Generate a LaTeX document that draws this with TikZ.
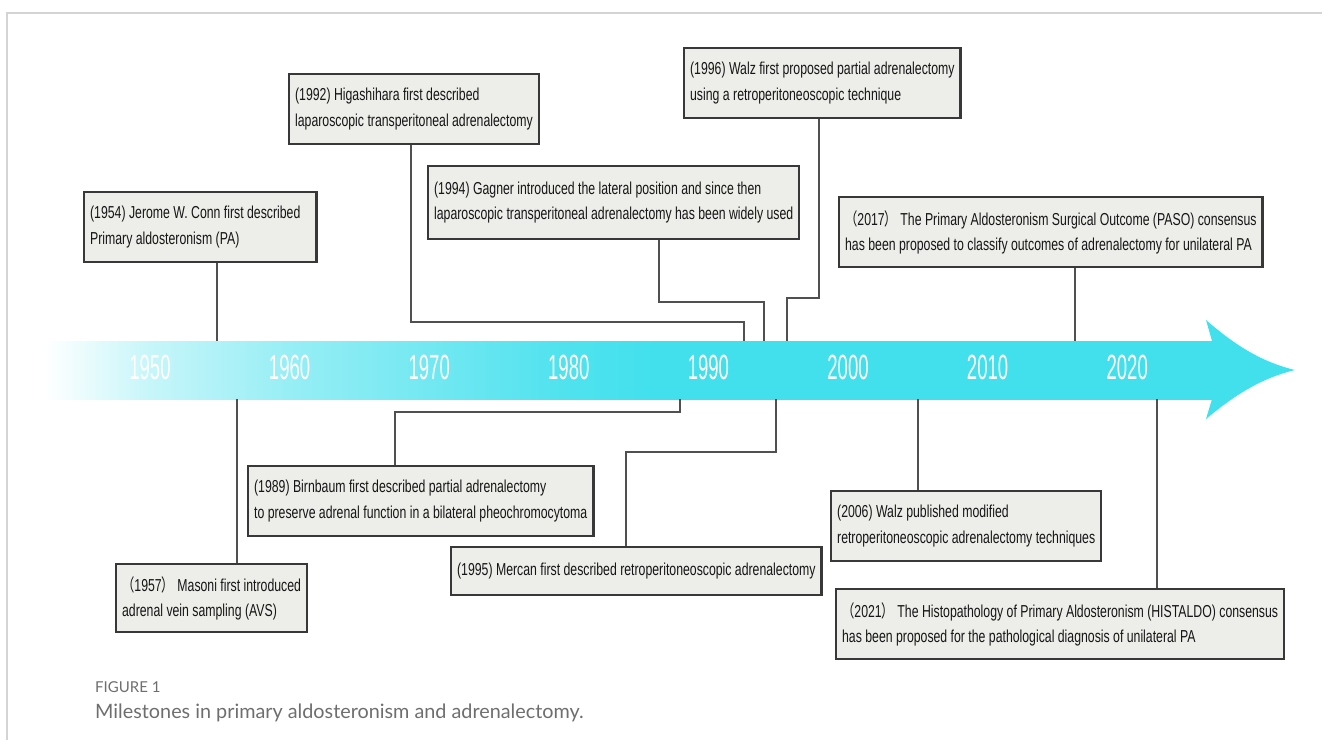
\documentclass[tikz,border=0pt]{standalone}
\usepackage{fontspec}
\setmainfont{Liberation Sans}
\newfontfamily\boxfont[FakeStretch=0.71]{Liberation Sans}
\newfontfamily\cjkparen[FakeStretch=0.71]{Noto Sans CJK SC}
\newfontfamily\yearfont[FakeStretch=0.53]{Liberation Sans}
\newfontfamily\capfont{Lato}
\newcommand{\fwlp}{{\cjkparen （}}
\newcommand{\fwrp}{{\cjkparen ）}}

\definecolor{tlcyan}{HTML}{42E0ED}
\definecolor{boxfill}{HTML}{EDEDE9}
\definecolor{boxline}{HTML}{383838}
\definecolor{boxtext}{HTML}{161616}
\definecolor{connline}{HTML}{505050}
\definecolor{framegray}{HTML}{D4D4D4}
\definecolor{capgray}{HTML}{6E6E6E}

% white-to-cyan fade along the time band
\pgfdeclarehorizontalshading{bandfade}{100bp}{%
  color(0bp)=(white); color(25bp)=(white);
  color(29.5bp)=(tlcyan!30!white); color(35.5bp)=(tlcyan!55!white);
  color(47bp)=(tlcyan!92!white); color(51bp)=(tlcyan); color(100bp)=(tlcyan)}

\tikzset{
  milestone/.style={draw=boxline, line width=2.3pt, fill=boxfill,
    anchor=north west, align=left, inner xsep=6pt, inner ysep=0pt,
    minimum height=70pt, text=boxtext,
    font=\boxfont\fontsize{17.3}{25.5}\selectfont},
  conn/.style={draw=connline, line width=1.1pt},
  yearlbl/.style={font=\yearfont\fontsize{35}{35}\selectfont,
    text=white, inner sep=0pt},
  caplbl/.style={anchor=base west, inner sep=0pt, text=capgray}
}

\begin{document}
\begin{tikzpicture}[x=1pt,y=-1pt]
\useasboundingbox (0,0) rectangle (1322,740);

% frame
\draw[framegray, line width=1.3pt] (1322,13) -- (7,13) -- (7,740);

% time band with arrow head
\fill[shading=bandfade] (45,341) rectangle (1213,399);
\fill[tlcyan] (1212,341) -- (1206,320)
  .. controls (1236,346) and (1262,362) .. (1295,370)
  .. controls (1262,378) and (1236,394) .. (1206,419)
  -- (1212,399) -- cycle;

% decade labels
\foreach \yr [count=\i from 0] in {1950,1960,1970,1980,1990,2000,2010,2020}
  \node[yearlbl] (yr\yr) at ({150+139.6*\i},367) {\yr};

% attachment points on the band
\coordinate (t1954) at (217,341);
\coordinate (t1992) at (744,341);
\coordinate (t1994) at (764,341);
\coordinate (t1996) at (787,341);
\coordinate (t2017) at (1075,341);
\coordinate (t1957) at (237,399);
\coordinate (t1989) at (680,399);
\coordinate (t1995) at (776,399);
\coordinate (t2006) at (918,399);
\coordinate (t2021) at (1157,399);
% elbows
\coordinate (j1992) at (411,322);
\coordinate (j1994) at (659,302);
\coordinate (j1996) at (819,298);
\coordinate (j1989) at (395,412);
\coordinate (j1995) at (626,452);

% milestones above the band
\node[milestone] (b1954) at (83,191)
  {(1954) Jerome W. Conn first described\hspace*{10pt}\\Primary aldosteronism (PA)};
\node[milestone] (b1992) at (288,73)
  {(1992) Higashihara first described\\laparoscopic transperitoneal adrenalectomy};
\node[milestone] (b1996) at (683,47)
  {(1996) Walz first proposed partial adrenalectomy\\using a retroperitoneoscopic technique};
\node[milestone, minimum height=73pt] (b1994) at (427,165)
  {(1994) Gagner introduced the lateral position and since then\\laparoscopic transperitoneal adrenalectomy has been widely used};
\node[milestone] (b2017) at (838,196)
  {\fwlp2017\fwrp\ The Primary Aldosteronism Surgical Outcome (PASO) consensus\\has been proposed to classify outcomes of adrenalectomy for unilateral PA};

% milestones below the band
\node[milestone] (b1989) at (247,465)
  {(1989) Birnbaum first described partial adrenalectomy\\to preserve adrenal function in a bilateral pheochromocytoma};
\node[milestone, minimum height=48pt] (b1995) at (450,546)
  {(1995) Mercan first described retroperitoneoscopic adrenalectomy};
\node[milestone, minimum height=68pt] (b1957) at (115,563)
  {\fwlp1957\fwrp\ Masoni first introduced\\adrenal vein sampling (AVS)};
\node[milestone] (b2006) at (830,490)
  {(2006) Walz published modified\\retroperitoneoscopic adrenalectomy techniques};
\node[milestone] (b2021) at (835,588)
  {\fwlp2021\fwrp\ The Histopathology of Primary Aldosteronism (HISTALDO) consensus\\has been proposed for the pathological diagnosis of unilateral PA};

% connectors
\draw[conn] (b1954.south -| t1954) -- (t1954);
\draw[conn] (b1992.south -| j1992) -- (j1992) -| (t1992);
\draw[conn] (b1994.south -| j1994) -- (j1994) -| (t1994);
\draw[conn] (b1996.south -| j1996) -- (j1996) -| (t1996);
\draw[conn] (b2017.south -| t2017) -- (t2017);
\draw[conn] (b1957.north -| t1957) -- (t1957);
\draw[conn] (b1989.north -| j1989) -- (j1989) -| (t1989);
\draw[conn] (b1995.north -| j1995) -- (j1995) -| (t1995);
\draw[conn] (b2006.north -| t2006) -- (t2006);
\draw[conn] (b2021.north -| t2021) -- (t2021);

% caption
\node[caplbl, font=\capfont\fontsize{15}{15}\selectfont] (figlabel) at (95,692) {FIGURE 1};
\node[caplbl, font=\capfont\fontsize{19.8}{19.8}\selectfont] (figcaption) at (95,718)
  {Milestones in primary aldosteronism and adrenalectomy.};
\end{tikzpicture}
\end{document}
